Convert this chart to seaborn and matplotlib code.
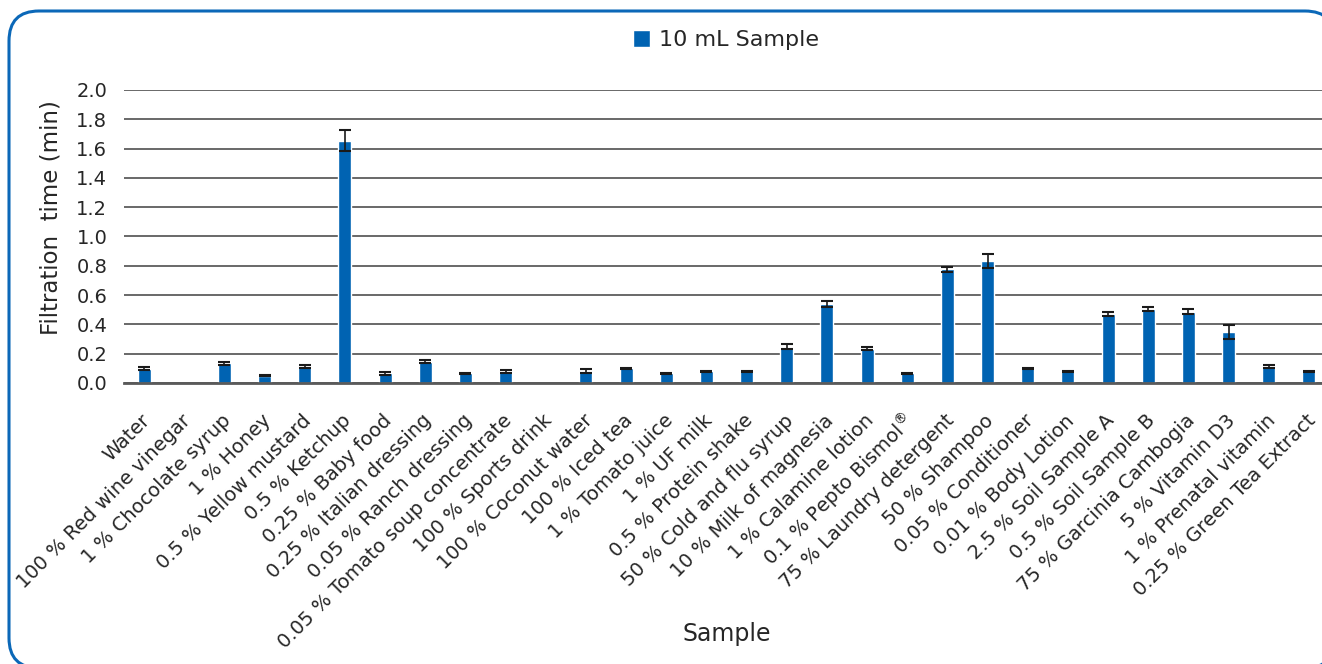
import matplotlib
matplotlib.use("Agg")
import matplotlib.pyplot as plt
import matplotlib.transforms as mtransforms
from matplotlib.patches import FancyBboxPatch
import seaborn as sns
import numpy as np
import pandas as pd

samples = [
    "Water", "100 % Red wine vinegar", "1 % Chocolate syrup", "1 % Honey",
    "0.5 % Yellow mustard", "0.5 % Ketchup", "0.25 % Baby food",
    "0.25 % Italian dressing", "0.05 % Ranch dressing",
    "0.05 % Tomato soup concentrate", "100 % Sports drink",
    "100 % Coconut water", "100 % Iced tea", "1 % Tomato juice",
    "1 % UF milk", "0.5 % Protein shake", "50 % Cold and flu syrup",
    "10 % Milk of magnesia", "1 % Calamine lotion",
    "0.1 % Pepto Bismol$^{\u00ae}$", "75 % Laundry detergent", "50 % Shampoo",
    "0.05 % Conditioner", "0.01 % Body Lotion", "2.5 % Soil Sample A",
    "0.5 % Soil Sample B", "75 % Garcinia Cambogia", "5 % Vitamin D3",
    "1 % Prenatal vitamin", "0.25 % Green Tea Extract",
]
# no bar was drawn for the vinegar and the sports drink
filtration_time = [
    0.097, np.nan, 0.134, 0.05, 0.113, 1.655, 0.066, 0.146, 0.066, 0.08, np.nan,
    0.08, 0.099, 0.066, 0.081, 0.081, 0.249, 0.54, 0.235, 0.067, 0.775,
    0.83, 0.099, 0.081, 0.472, 0.505, 0.487, 0.348, 0.112, 0.081,
]
error = [
    0.01, np.nan, 0.012, 0.004, 0.01, 0.072, 0.011, 0.01, 0.003, 0.012, np.nan,
    0.013, 0.004, 0.004, 0.004, 0.004, 0.016, 0.018, 0.011, 0.004, 0.018,
    0.048, 0.004, 0.004, 0.016, 0.015, 0.015, 0.048, 0.01, 0.004,
]
yticks = [0.0, 0.2, 0.4, 0.6, 0.8, 1.0, 1.2, 1.4, 1.6, 1.8, 2.0]

df = pd.DataFrame({"Sample": samples, "time": filtration_time, "err": error})

sns.set_style("white")
plt.rcParams["font.family"] = ["DejaVu Sans"]

bar_color = "#0063B2"
text_color = "#262626"

fig = plt.figure(figsize=(13.22, 6.64), dpi=100)
W, H = 1322, 664
ax = fig.add_axes([124 / W, 1 - 383 / H, 1205 / W, 293 / H])

sns.barplot(data=df, x="Sample", y="time", color=bar_color, width=0.32,
            errorbar=None, saturation=1, ax=ax, label="10 mL Sample")
ax.errorbar(np.arange(len(samples)), df["time"], yerr=df["err"], fmt="none",
            ecolor="#1a1a1a", elinewidth=1.2, capsize=4.5, capthick=1.5, zorder=4)

ax.set_xlim(-0.5, len(samples) - 0.5)
ax.set_ylim(0, 2.0)
ax.set_yticks(yticks)
ax.set_yticklabels([f"{v:.1f}" for v in yticks])
ax.yaxis.grid(True, color="#404040", linewidth=1.1)
ax.set_axisbelow(True)
ax.patch.set_alpha(0)
for s in ["top", "right", "left"]:
    ax.spines[s].set_visible(False)
ax.spines["bottom"].set_color("#5a5a5a")
ax.spines["bottom"].set_linewidth(2)

ax.tick_params(axis="y", length=0, pad=12, labelsize=14, labelcolor=text_color)
ax.tick_params(axis="x", length=0, pad=0, labelsize=14, labelcolor=text_color)
offset = mtransforms.ScaledTranslation(2.5 / 72, -25 / 72, fig.dpi_scale_trans)
for lbl in ax.get_xticklabels():
    lbl.set_rotation(45)
    lbl.set_ha("right")
    lbl.set_va("center")
    lbl.set_rotation_mode("anchor")
    lbl.set_transform(lbl.get_transform() + offset)

ax.set_ylabel("Filtration  time (min)", fontsize=16.5, color=text_color)
ax.yaxis.set_label_coords(-0.051, 0.563)
ax.set_xlabel("Sample", fontsize=17, color=text_color)
ax.xaxis.set_label_coords(0.5, -0.815)

leg = ax.legend(loc="center", bbox_to_anchor=(726 / W, 1 - 40 / H),
                bbox_transform=fig.transFigure, frameon=False, fontsize=16,
                handlelength=0.8, handleheight=0.8, handletextpad=0.4,
                labelcolor=text_color)

# rounded frame, filled white and drawn under the axes; its right side runs off the canvas
border = FancyBboxPatch((9 / 100, -4 / 100), 1326 / 100, (664 - 11 + 4) / 100,
                        boxstyle="round,pad=0,rounding_size=0.3",
                        transform=fig.dpi_scale_trans, facecolor="white",
                        edgecolor="#0B68B8", linewidth=2.2, zorder=-1)
fig.patches.append(border)

fig.savefig("out.png", dpi=100)
